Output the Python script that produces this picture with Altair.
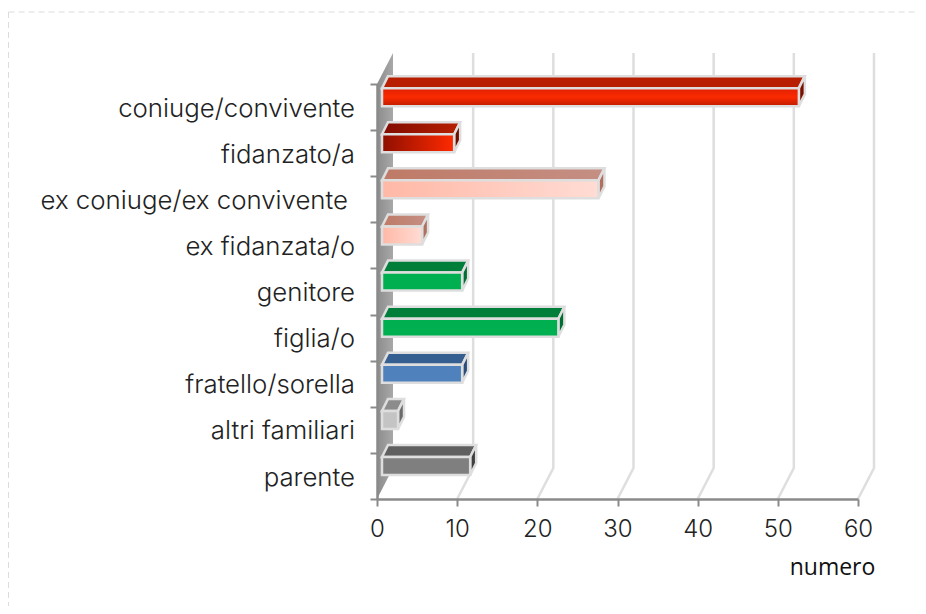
import altair as alt
import pandas as pd

categories = ["coniuge/convivente", "fidanzato/a", "ex coniuge/ex convivente ", "ex fidanzata/o",
              "genitore", "figlia/o", "fratello/sorella", "altri familiari", "parente"]
values = [52, 9, 27, 5, 10, 22, 10, 2, 11]
x_ticks = [0, 10, 20, 30, 40, 50, 60]

# front gradient (stops, direction), top gradient, side colour
styles = [
    (([("#e02000", 0), ("#fa2a00", .5), ("#c01c00", 1)], "v"), ["#b81e00", "#b81e00"], "#7a1000"),
    (([("#8e0f00", 0), ("#ff2a00", 1)], "h"), ["#800c00", "#b82000"], "#6e0c00"),
    (([("#ffb8a6", 0), ("#ffdcd4", 1)], "h"), ["#be7a66", "#c58f84"], "#b0705f"),
    (([("#ffb8a6", 0), ("#ffdcd4", 1)], "h"), ["#be7a66", "#c58f84"], "#b0705f"),
    (([("#00b050", 0), ("#00b050", 1)], "h"), ["#007e3a", "#007e3a"], "#006e32"),
    (([("#00b050", 0), ("#00b050", 1)], "h"), ["#007e3a", "#007e3a"], "#006e32"),
    (([("#4f81bd", 0), ("#4f81bd", 1)], "h"), ["#365f91", "#365f91"], "#2a4d7a"),
    (([("#c4c4c4", 0), ("#c4c4c4", 1)], "h"), ["#8c8c8c", "#8c8c8c"], "#6a6a6a"),
    (([("#7f7f7f", 0), ("#7f7f7f", 1)], "h"), ["#5f5f5f", "#5f5f5f"], "#404040"),
]

W, H = 481, 415
PX, PY = 60 / W, 9 / H       # data units per pixel
wall_dx, wall_dy = 16 * PX, 31 * PY
bar_x0 = 5 * PX
bar_lo, bar_hi = 0.52, 0.91
top_dx, top_dy = 6 * PX, 12 * PY
EDGE = "#dedede"
FONT = "Inter"

xs = alt.Scale(domain=[0, 60], nice=False, zero=False)
ys = alt.Scale(domain=[0, 9], nice=False, zero=False)


def X(f="x", **k):
    return alt.X(f"{f}:Q", scale=xs, axis=k.pop("axis", None), **k)


def Y(f="y", **k):
    return alt.Y(f"{f}:Q", scale=ys, axis=k.pop("axis", None), **k)


def grad(stops, d="h"):
    g = dict(x1=0, x2=1, y1=0, y2=0) if d == "h" else dict(x1=0, x2=0, y1=0, y2=1)
    return alt.Gradient(gradient="linear",
                        stops=[alt.GradientStop(color=c, offset=o) for c, o in stops], **g)


layers = []

# axes (with ticks) carried by an otherwise empty layer drawn on top of the wall
axis_layer = alt.Chart(pd.DataFrame({"x": [0], "y": [0]})).mark_point(opacity=0).encode(
    x=alt.X("x:Q", scale=xs, title="numero",
            axis=alt.Axis(values=x_ticks, grid=False, domainColor="#8a8a8a", domainWidth=2.5,
                          tickColor="#8a8a8a", tickWidth=2, tickSize=7, labelFont=FONT,
                          labelFontSize=24, labelFontWeight=300, labelColor="#222", labelPadding=11,
                          labelFlush=False, labelBound=False,
                          titleFont="Open Sans", titleFontSize=23, titleFontWeight=400,
                          titleColor="#111", titleX=455, titleY=57, zindex=1)),
    y=alt.Y("y:Q", scale=ys, title=None,
            axis=alt.Axis(values=list(range(10)), labels=False, grid=False, domainColor="#8a8a8a",
                          domainWidth=2.5, tickColor="#8a8a8a", tickWidth=2, tickSize=7, zindex=1)),
)

# side wall
wall = pd.DataFrame({"x": [0, wall_dx], "y": [0, wall_dy], "y2": [9, 9 + wall_dy]})
layers.append(alt.Chart(wall).mark_area(
    color=grad([("#8c8c8c", 0), ("#a8a8a8", 1)], "h"), orient="vertical").encode(
    x=X(), y=Y(), y2="y2:Q"))

# grid lines, sheared along the floor then up the back wall
grid = []
for t in x_ticks[1:]:
    grid += [dict(t=t, o=0, x=t, y=0), dict(t=t, o=1, x=t + wall_dx, y=wall_dy),
             dict(t=t, o=2, x=t + wall_dx, y=9 + wall_dy)]
layers.append(alt.Chart(pd.DataFrame(grid)).mark_line(color=EDGE, strokeWidth=2.5).encode(
    x=X(), y=Y(), detail="t:N", order="o:Q"))

# 3D bars
n = len(categories)
for i, (cat, v, (fg, tc, sc)) in enumerate(zip(categories, values, styles)):
    row = n - 1 - i
    x0, x1 = bar_x0, bar_x0 + v
    lo, hi = row + bar_lo, row + bar_hi
    top = pd.DataFrame({"y": [hi, hi + top_dy], "x": [x0, x0 + top_dx], "x2": [x1, x1 + top_dx]})
    layers.append(alt.Chart(top).mark_area(
        orient="horizontal", color=grad([(tc[0], 0), (tc[1], 1)], "h"),
        stroke=EDGE, strokeWidth=2.5).encode(x=X(), x2="x2:Q", y=Y()))
    side = pd.DataFrame({"x": [x1, x1 + top_dx], "y": [lo, lo + top_dy], "y2": [hi, hi + top_dy]})
    layers.append(alt.Chart(side).mark_area(
        orient="vertical", color=sc, stroke=EDGE, strokeWidth=2.5).encode(x=X(), y=Y(), y2="y2:Q"))
    front = pd.DataFrame({"x": [x0], "x2": [x1], "y": [lo], "y2": [hi]})
    layers.append(alt.Chart(front).mark_rect(
        color=grad(*fg), stroke=EDGE, strokeWidth=2.5).encode(x=X(), x2="x2:Q", y=Y(), y2="y2:Q"))

# category labels (a trailing space in the source text sets that label further left)
labels = pd.DataFrame({
    "label": categories,
    "x": [-7 * PX if c.endswith(" ") else 0 for c in categories],
    "y": [n - 1 - i + 0.5 for i in range(n)],
})
layers.append(alt.Chart(labels).mark_text(
    align="right", baseline="middle", dx=-22, dy=1.6, font=FONT, fontSize=25.8, fontWeight=300,
    color="#222").encode(x=X(), y=Y(), text="label:N"))

# dashed frame
frame_dash = [6, 4]
layers.append(alt.Chart(pd.DataFrame({"a": [0]})).mark_rule(
    color="#dcdcdc", strokeWidth=1, strokeDash=frame_dash).encode(
    x=alt.value(-368.5), x2=alt.value(W + 60), y=alt.value(-72), y2=alt.value(-72)))
layers.append(alt.Chart(pd.DataFrame({"a": [0]})).mark_rule(
    color="#dcdcdc", strokeWidth=1, strokeDash=frame_dash).encode(
    x=alt.value(-368.5), y=alt.value(-72), y2=alt.value(H + 107)))

chart = alt.layer(axis_layer, *layers).resolve_axis(x="independent", y="independent").properties(
    width=W, height=H, background="white", autosize="none",
    padding={"left": 369, "top": 76, "right": 60, "bottom": 107},
).configure_view(stroke=None)

chart.save("out.html", embed_options={"renderer": "svg", "actions": False})
